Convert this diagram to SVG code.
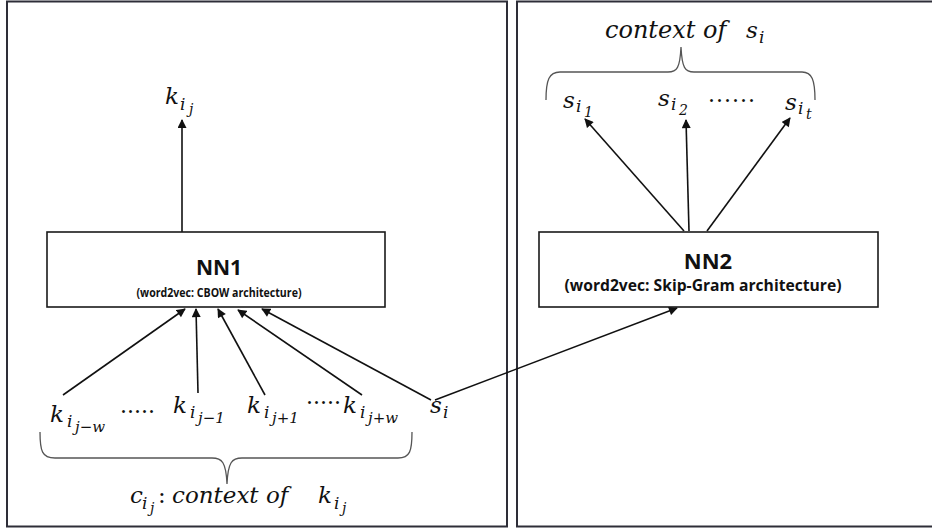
<svg xmlns="http://www.w3.org/2000/svg" width="932" height="532" viewBox="0 0 932 532">
  <style>
    .frame { fill: none; stroke: #2e2e38; stroke-width: 2; }
    .box { fill: #ffffff; stroke: #1a1a1a; stroke-width: 1.6; }
    .title { font-family: "Open Sans", "Liberation Sans", sans-serif; font-weight: bold; fill: #111; text-anchor: middle; }
    .m { font-family: "DejaVu Serif", "Liberation Serif", serif; font-style: italic; fill: #111; }
    .dots { font-family: "DejaVu Serif", "Liberation Serif", serif; fill: #111; }
    .edge { fill: none; stroke: #111; stroke-width: 1.6; }
    .brace { fill: none; stroke: #555; stroke-width: 1.3; }
  </style>
  <defs>
    <marker id="arrow" viewBox="0 0 10 10" refX="9" refY="5" markerWidth="10" markerHeight="9" markerUnits="userSpaceOnUse" orient="auto">
      <path d="M0,0 L10,5 L0,10 z" fill="#111"/>
    </marker>
  </defs>

  <rect width="932" height="532" fill="#ffffff"/>

  <!-- panels -->
  <g id="panel-cbow">
    <rect class="frame" x="7" y="1.5" width="500" height="525"/>
  </g>
  <g id="panel-skipgram">
    <rect class="frame" x="517" y="1.5" width="430" height="525"/>
  </g>

  <!-- connectors -->
  <g id="connectors">
    <line class="edge" x1="182" y1="232" x2="182" y2="120" marker-end="url(#arrow)"/>
    <line class="edge" x1="63" y1="395" x2="185" y2="309" marker-end="url(#arrow)"/>
    <line class="edge" x1="198" y1="393" x2="196" y2="309" marker-end="url(#arrow)"/>
    <line class="edge" x1="265" y1="395" x2="218" y2="309" marker-end="url(#arrow)"/>
    <line class="edge" x1="362" y1="395" x2="238" y2="310" marker-end="url(#arrow)"/>
    <line class="edge" x1="431" y1="400" x2="262" y2="309" marker-end="url(#arrow)"/>
    <line class="edge" x1="435" y1="400" x2="677" y2="308" marker-end="url(#arrow)"/>
    <line class="edge" x1="684" y1="231" x2="585" y2="119" marker-end="url(#arrow)"/>
    <line class="edge" x1="689" y1="231" x2="686" y2="120" marker-end="url(#arrow)"/>
    <line class="edge" x1="707" y1="231" x2="790" y2="118" marker-end="url(#arrow)"/>
  </g>

  <!-- NN1 -->
  <g id="nn1">
    <rect class="box" x="47" y="232" width="338" height="75"/>
    <text class="title" x="219" y="275" font-size="21">NN1</text>
    <text class="title" x="219" y="297" font-size="12" textLength="165" lengthAdjust="spacingAndGlyphs">(word2vec: CBOW architecture)</text>
  </g>

  <!-- NN2 -->
  <g id="nn2">
    <rect class="box" x="539" y="232" width="339" height="75"/>
    <text class="title" x="708" y="269" font-size="22">NN2</text>
    <text class="title" x="703" y="291" font-size="15.5" textLength="277" lengthAdjust="spacingAndGlyphs">(word2vec: Skip-Gram architecture)</text>
  </g>

  <!-- output word of CBOW -->
  <g id="k-ij">
    <text class="m"><tspan x="165" y="104" font-size="23">k</tspan><tspan x="180" y="110" font-size="17">i</tspan><tspan x="189" y="114" font-size="14">j</tspan></text>
  </g>

  <!-- context words of CBOW -->
  <g id="k-ij-w">
    <text class="m"><tspan x="50" y="422" font-size="23">k</tspan><tspan x="67" y="427" font-size="17">i</tspan><tspan x="75" y="432" font-size="15">j−w</tspan></text>
  </g>
  <text class="dots" x="120" y="413" font-size="22">.....</text>
  <g id="k-ij-1">
    <text class="m"><tspan x="173" y="413" font-size="23">k</tspan><tspan x="190" y="418" font-size="17">i</tspan><tspan x="198" y="423" font-size="15">j−1</tspan></text>
  </g>
  <g id="k-ij+1">
    <text class="m"><tspan x="247" y="413" font-size="23">k</tspan><tspan x="264" y="418" font-size="17">i</tspan><tspan x="272" y="423" font-size="15">j+1</tspan></text>
  </g>
  <text class="dots" x="306" y="404" font-size="22">.....</text>
  <g id="k-ij+w">
    <text class="m"><tspan x="343" y="413" font-size="23">k</tspan><tspan x="360" y="418" font-size="17">i</tspan><tspan x="368" y="423" font-size="15">j+w</tspan></text>
  </g>
  <g id="s-i">
    <text class="m"><tspan x="430" y="413" font-size="23">s</tspan><tspan x="443" y="418" font-size="17">i</tspan></text>
  </g>

  <!-- brace under the CBOW context -->
  <path class="brace" d="M40,432 C40,451 42,458 55,458 L212,458 C222,458 226,462 227,484 C228,462 232,458 242,458 L398,458 C410,458 412,451 412,432"/>
  <text class="m"><tspan x="130" y="503" font-size="23">c</tspan><tspan x="142" y="509" font-size="17">i</tspan><tspan x="150" y="513" font-size="14">j</tspan><tspan x="158" y="503" font-size="23" font-style="normal">:</tspan><tspan x="172" y="503" font-size="23">context of</tspan><tspan x="318" y="503" font-size="23">k</tspan><tspan x="334" y="509" font-size="17">i</tspan><tspan x="342" y="513" font-size="14">j</tspan></text>

  <!-- context words of Skip-Gram -->
  <g id="s-i1">
    <text class="m"><tspan x="563" y="108" font-size="23">s</tspan><tspan x="576" y="112" font-size="17">i</tspan><tspan x="584" y="117" font-size="14">1</tspan></text>
  </g>
  <g id="s-i2">
    <text class="m"><tspan x="658" y="106" font-size="23">s</tspan><tspan x="671" y="110" font-size="17">i</tspan><tspan x="679" y="115" font-size="14">2</tspan></text>
  </g>
  <text class="dots" x="708" y="102" font-size="22" letter-spacing="1">......</text>
  <g id="s-it">
    <text class="m"><tspan x="785" y="110" font-size="23">s</tspan><tspan x="798" y="114" font-size="17">i</tspan><tspan x="806" y="119" font-size="14">t</tspan></text>
  </g>

  <!-- brace over the Skip-Gram context -->
  <path class="brace" d="M546,100 C546,80 549,72 560,72 L668,72 C677,72 680,68 681,47 C682,68 685,72 694,72 L802,72 C812,72 815,80 815,100"/>
  <text class="m"><tspan x="605" y="38" font-size="24">context of</tspan><tspan x="746" y="38" font-size="23">s</tspan><tspan x="759" y="43" font-size="17">i</tspan></text>
</svg>
